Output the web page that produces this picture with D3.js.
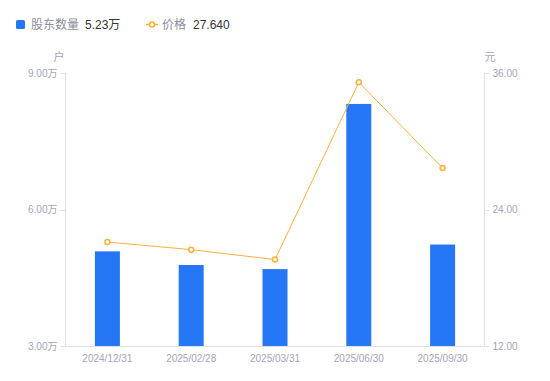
<!DOCTYPE html>
<html lang="zh">
<head>
<meta charset="UTF-8">
<title>股东数量</title>
<script src="https://d3js.org/d3.v7.min.js"></script>
<style>
  body { margin: 0; background: #fff; }
  text { font-family: "Liberation Sans", "Noto Sans CJK SC", sans-serif; }
</style>
</head>
<body>
<div id="chart"></div>
<script>
const dates = ["2024/12/31", "2025/02/28", "2025/03/31", "2025/06/30", "2025/09/30"];
const holders = [5.08, 4.78, 4.69, 8.32, 5.23];   // 万户
const prices = [21.14, 20.47, 19.60, 35.18, 27.64];
const leftTicks = [3, 6, 9];
const rightTicks = [12, 24, 36];

const width = 550, height = 381;
const plotLeft = 65.5, plotRight = 484.5, plotTop = 73, plotBottom = 346;
const blue = "#2577f5", orange = "#fbb03b";
const axisColor = "#e0e1e6", labelColor = "#a2a5b5";

const svg = d3.select("#chart").append("svg")
  .attr("width", width).attr("height", height);

const x = d3.scaleBand().domain(dates).range([plotLeft, plotRight]);
const yL = d3.scaleLinear().domain([3, 9]).range([plotBottom, plotTop]);
const yR = d3.scaleLinear().domain([12, 36]).range([plotBottom, plotTop]);

// bars
const bw = 25;
svg.selectAll("rect.bar").data(holders).enter().append("rect")
  .attr("class", "bar")
  .attr("x", (d, i) => x(dates[i]) + x.bandwidth() / 2 - bw / 2)
  .attr("width", bw)
  .attr("y", d => yL(d))
  .attr("height", d => plotBottom - yL(d))
  .attr("fill", blue);

// axes lines
svg.append("line").attr("x1", plotLeft).attr("x2", plotRight).attr("y1", plotBottom + 0.5).attr("y2", plotBottom + 0.5)
  .attr("stroke", axisColor);
svg.append("line").attr("x1", plotLeft).attr("x2", plotLeft).attr("y1", plotTop).attr("y2", plotBottom)
  .attr("stroke", axisColor);
svg.append("line").attr("x1", plotRight).attr("x2", plotRight).attr("y1", plotTop).attr("y2", plotBottom)
  .attr("stroke", axisColor);

// left ticks
leftTicks.forEach(t => {
  svg.append("line").attr("x1", plotLeft - 5).attr("x2", plotLeft).attr("y1", Math.round(yL(t)) + 0.5).attr("y2", Math.round(yL(t)) + 0.5)
    .attr("stroke", axisColor);
  svg.append("text").attr("x", plotLeft - 8).attr("y", yL(t)).attr("dy", "0.35em")
    .attr("text-anchor", "end").attr("font-size", 10).attr("fill", labelColor)
    .text(t.toFixed(2) + "万");
});
// right ticks
rightTicks.forEach(t => {
  svg.append("line").attr("x1", plotRight).attr("x2", plotRight + 5).attr("y1", Math.round(yR(t)) + 0.5).attr("y2", Math.round(yR(t)) + 0.5)
    .attr("stroke", axisColor);
  svg.append("text").attr("x", plotRight + 8).attr("y", yR(t)).attr("dy", "0.35em")
    .attr("text-anchor", "start").attr("font-size", 10).attr("fill", labelColor)
    .text(t.toFixed(2));
});
// x labels
dates.forEach(d => {
  svg.append("text").attr("x", x(d) + x.bandwidth() / 2).attr("y", plotBottom + 12).attr("dy", "0.35em")
    .attr("text-anchor", "middle").attr("font-size", 10).attr("fill", labelColor).text(d);
});

// unit labels
svg.append("text").attr("x", 59).attr("y", 57).attr("dy", "0.35em").attr("text-anchor", "middle")
  .attr("font-size", 11).attr("fill", labelColor).text("户");
svg.append("text").attr("x", 490).attr("y", 57).attr("dy", "0.35em").attr("text-anchor", "middle")
  .attr("font-size", 11).attr("fill", labelColor).text("元");

// price line
const line = d3.line().x((d, i) => x(dates[i]) + x.bandwidth() / 2).y(d => yR(d));
svg.append("path").datum(prices).attr("d", line)
  .attr("fill", "none").attr("stroke", orange).attr("stroke-width", 1);
svg.selectAll("circle.pt").data(prices).enter().append("circle")
  .attr("class", "pt")
  .attr("cx", (d, i) => x(dates[i]) + x.bandwidth() / 2)
  .attr("cy", d => yR(d))
  .attr("r", 2.5)
  .attr("fill", "#fff").attr("stroke", orange).attr("stroke-width", 1.5);

// legend
const lg = svg.append("g");
lg.append("rect").attr("x", 16).attr("y", 20).attr("width", 9).attr("height", 9).attr("rx", 1.5).attr("fill", blue);
lg.append("text").attr("x", 31).attr("y", 24.5).attr("dy", "0.35em").attr("font-size", 12).attr("fill", "#8a8d99").text("股东数量");
lg.append("text").attr("x", 85).attr("y", 24.5).attr("dy", "0.35em").attr("font-size", 12).attr("fill", "#333").text("5.23万");
lg.append("line").attr("x1", 146).attr("x2", 158).attr("y1", 24.5).attr("y2", 24.5).attr("stroke", orange).attr("stroke-width", 1.5);
lg.append("circle").attr("cx", 152).attr("cy", 24.5).attr("r", 2.5).attr("fill", "#fff").attr("stroke", orange).attr("stroke-width", 1.5);
lg.append("text").attr("x", 162).attr("y", 24.5).attr("dy", "0.35em").attr("font-size", 12).attr("fill", "#8a8d99").text("价格");
lg.append("text").attr("x", 193).attr("y", 24.5).attr("dy", "0.35em").attr("font-size", 12).attr("fill", "#333").text("27.640");
</script>
</body>
</html>
